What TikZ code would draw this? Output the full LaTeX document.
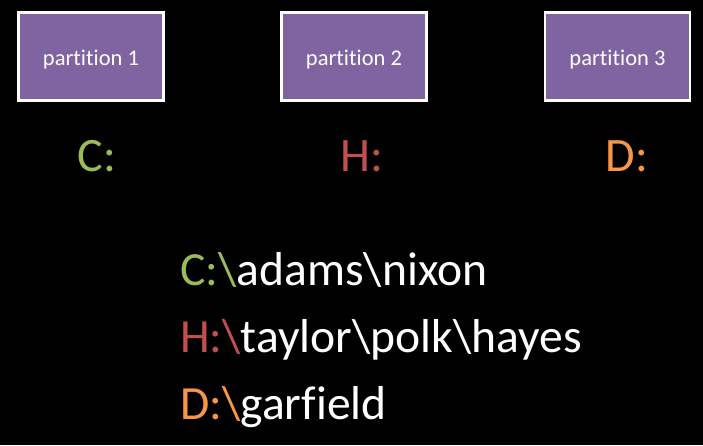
\documentclass[tikz,border=0pt]{standalone}
\usepackage{fontspec}
\setmainfont[Ligatures={NoCommon}]{Carlito}
\definecolor{ogreen}{RGB}{155,187,89}
\definecolor{ored}{RGB}{192,80,77}
\definecolor{oorange}{RGB}{247,150,70}
\definecolor{opurple}{RGB}{128,100,162}
\begin{document}
\begin{tikzpicture}[x=1pt,y=-1pt,
  partbox/.style={draw=white,line width=2.2pt,fill=opurple,minimum width=145pt,minimum height=88pt,inner sep=0pt,text height=17pt,text depth=0pt,text=white,font=\fontsize{22.5}{26}\selectfont},
  drivelbl/.style={font=\fontsize{48}{56}\selectfont,inner sep=0pt},
  pathline/.style={font=\fontsize{47.6}{56}\selectfont,inner sep=0pt,anchor=base west,text=white}]
\fill[black] (0,0) rectangle (703,445);
\useasboundingbox (0,0) rectangle (703,445);
\node[partbox] (p1) at (91,56.5) {partition 1};
\node[partbox] (p2) at (354,56.5) {partition 2};
\node[partbox] (p3) at (617.5,56.5) {partition 3};
\node[drivelbl,text=ogreen,anchor=base] (c) at (97,171) {C:};
\node[drivelbl,text=ored,anchor=base] (h) at (362,171) {H:};
\node[drivelbl,text=oorange,anchor=base] (d) at (627,171) {D:};
\node[pathline] (l1) at (180,285) {\textcolor{ogreen}{C:\textbackslash}adams\textbackslash nixon};
\node[pathline] (l2) at (180,352) {\textcolor{ored}{H:\textbackslash}taylor\textbackslash polk\textbackslash hayes};
\node[pathline] (l3) at (180,419) {\textcolor{oorange}{D:\textbackslash}garfield};
\end{tikzpicture}
\end{document}
